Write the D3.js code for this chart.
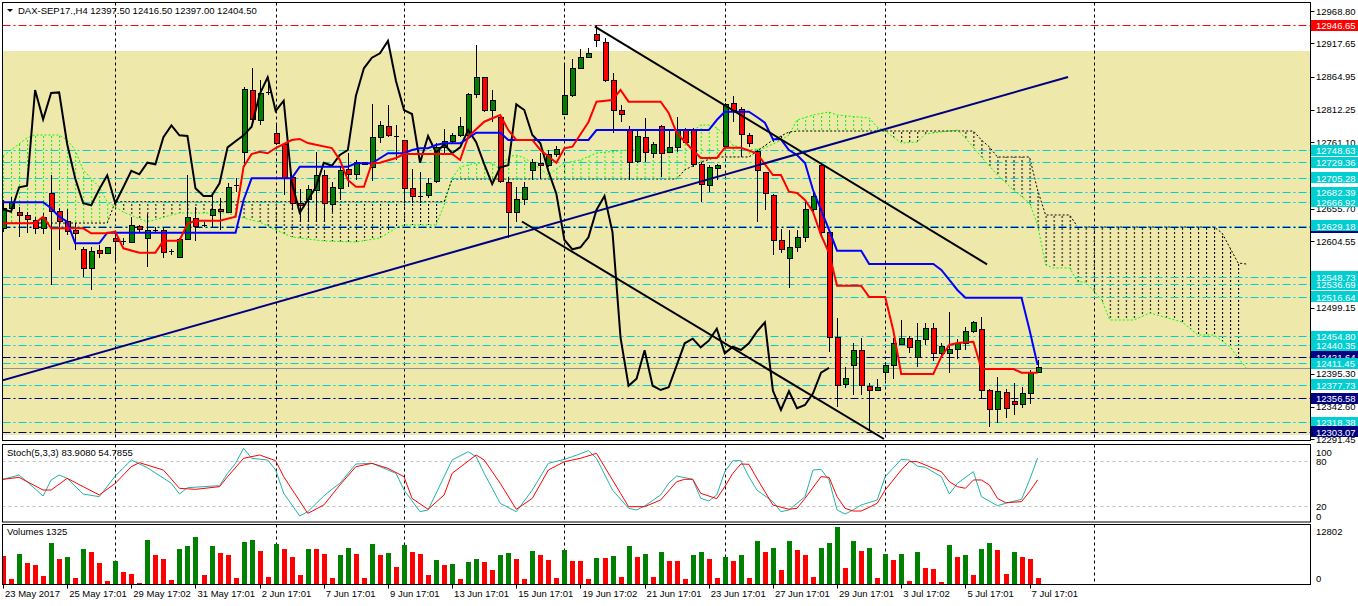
<!DOCTYPE html>
<html lang="en">
<head>
<meta charset="UTF-8">
<title>DAX-SEP17 H4</title>
<script src="https://cdnjs.cloudflare.com/ajax/libs/d3/7.8.5/d3.min.js"></script>
<style>
body{margin:0;background:#fff;}
text{font-family:'Liberation Sans',Arial,sans-serif;font-size:9.5px;}
</style>
</head>
<body>
<script type="text/javascript">
// candles, 130 bars of H4
var opens = [12625.6,12657.2,12649.8,12645.1,12637.2,12625.1,12680.5,12652.0,12635.6,12620.9,
12591.9,12561.9,12590.3,12585.6,12609.3,12605.1,12602.4,12627.7,12609.3,12621.3,
12621.3,12588.1,12579.3,12607.7,12640.3,12630.8,12645.1,12655.2,12649.8,12693.1,
12745.8,12842.8,12796.4,12839.6,12775.4,12758.0,12705.8,12664.7,12669.9,12685.7,
12709.0,12663.1,12688.4,12718.5,12710.5,12729.5,12721.6,12769.1,12785.8,12771.6,
12763.7,12688.4,12676.7,12676.7,12698.8,12753.2,12762.7,12772.2,12772.2,12837.1,
12864.0,12810.7,12800.7,12697.3,12649.8,12669.9,12716.2,12727.9,12724.1,12741.1,
12805.4,12834.4,12878.2,12895.6,12932.0,12918.7,12858.6,12812.2,12780.6,12730.5,
12769.1,12743.8,12785.8,12745.3,12752.6,12780.6,12780.6,12726.4,12693.6,12720.0,
12754.2,12822.8,12813.3,12772.2,12746.3,12713.1,12677.3,12606.6,12577.7,12595.1,
12610.3,12654.1,12723.7,12618.8,12452.8,12378.4,12407.9,12432.2,12374.6,12369.4,
12396.8,12408.5,12441.7,12450.6,12421.1,12449.6,12466.4,12427.5,12427.5,12432.7,
12442.2,12461.6,12465.4,12369.4,12337.8,12365.1,12350.9,12345.7,12364.2,12397.5];
var highs = [12669.9,12674.6,12658.8,12650.9,12643.5,12648.9,12709.4,12657.2,12655.7,12634.0,
12596.0,12596.0,12598.7,12596.0,12617.2,12609.8,12643.5,12630.4,12647.8,12627.7,
12627.7,12591.9,12609.3,12709.4,12659.3,12635.6,12677.8,12672.6,12697.3,12704.7,
12849.1,12878.7,12859.7,12864.9,12792.1,12758.0,12706.7,12687.3,12693.6,12746.3,
12717.3,12698.8,12722.6,12744.2,12733.2,12730.5,12821.7,12795.3,12820.1,12788.5,
12764.8,12718.5,12714.7,12704.2,12759.6,12782.2,12775.4,12801.6,12838.6,12915.0,
12864.9,12843.9,12804.3,12706.7,12690.9,12698.4,12734.7,12744.2,12749.0,12755.3,
12886.1,12892.4,12908.2,12909.8,12946.7,12925.6,12870.3,12820.1,12786.9,12780.6,
12799.1,12762.1,12788.5,12780.6,12800.7,12783.3,12783.3,12730.5,12725.3,12726.4,
12822.8,12834.4,12816.5,12775.4,12749.0,12714.7,12679.4,12623.6,12622.5,12622.5,
12667.2,12683.0,12727.9,12622.5,12482.8,12405.3,12444.2,12452.1,12380.0,12386.3,
12414.2,12451.2,12480.1,12454.8,12475.9,12474.9,12475.9,12444.2,12492.3,12449.6,
12469.5,12479.0,12485.3,12370.5,12389.5,12370.5,12380.0,12373.7,12401.0,12416.5];
var lows = [12619.3,12654.1,12611.4,12617.7,12616.1,12616.1,12535.5,12590.8,12614.5,12590.8,
12547.6,12527.6,12578.2,12584.5,12570.7,12598.7,12601.4,12619.8,12563.5,12617.2,
12577.7,12582.9,12577.7,12606.6,12605.5,12627.7,12627.7,12622.5,12648.9,12683.0,
12722.6,12796.4,12788.5,12836.0,12756.9,12677.8,12654.1,12635.6,12635.6,12635.6,
12635.6,12651.4,12669.9,12690.5,12701.5,12725.3,12700.4,12759.6,12769.1,12733.2,
12664.7,12664.7,12664.7,12672.6,12696.3,12741.1,12759.6,12770.0,12770.0,12830.7,
12809.5,12793.7,12696.3,12609.3,12635.6,12662.0,12701.5,12703.1,12722.6,12738.4,
12804.3,12833.3,12878.2,12894.0,12912.3,12857.0,12775.4,12793.7,12701.5,12728.9,
12730.5,12735.9,12706.7,12743.8,12746.3,12759.6,12722.6,12667.2,12683.0,12701.5,
12751.7,12793.7,12738.4,12754.2,12635.6,12654.1,12582.9,12585.6,12530.3,12588.1,
12604.0,12651.4,12611.9,12430.0,12342.1,12372.1,12361.5,12361.5,12306.2,12368.3,
12385.2,12386.3,12440.1,12428.4,12406.3,12440.6,12415.8,12419.6,12396.8,12418.0,
12432.7,12460.0,12356.3,12310.4,12316.8,12324.7,12329.9,12340.5,12347.3,12397.0];
var closes = [12657.2,12665.2,12644.6,12638.3,12625.1,12641.9,12651.4,12635.6,12619.8,12617.2,
12561.9,12589.2,12585.6,12595.1,12604.0,12605.6,12628.8,12624.0,12621.3,12621.8,
12587.2,12588.6,12607.7,12642.5,12627.7,12630.3,12655.2,12651.4,12690.0,12692.6,
12843.9,12797.5,12839.1,12840.1,12758.5,12704.2,12664.7,12661.5,12686.8,12709.0,
12664.7,12690.0,12716.2,12710.5,12728.9,12726.4,12769.1,12788.0,12772.2,12771.1,
12688.4,12676.2,12676.2,12696.3,12753.2,12762.7,12772.2,12785.8,12837.1,12864.0,
12810.7,12826.9,12698.8,12649.8,12669.9,12690.0,12728.9,12724.1,12741.1,12749.0,
12834.4,12878.2,12894.9,12901.9,12921.4,12858.1,12812.2,12805.9,12728.9,12771.1,
12744.7,12758.0,12743.8,12753.2,12780.6,12761.2,12726.8,12695.2,12721.6,12724.8,
12821.2,12812.2,12772.7,12759.6,12715.8,12679.4,12606.6,12591.9,12595.1,12610.9,
12654.1,12676.2,12618.8,12452.1,12376.2,12387.3,12432.2,12376.2,12369.4,12373.7,
12408.5,12443.3,12450.6,12436.9,12447.4,12466.4,12427.5,12437.9,12432.7,12443.3,
12461.6,12476.5,12368.3,12337.8,12367.4,12340.5,12345.7,12364.2,12396.8,12404.5];
var volumes = [6150,1160,6580,4630,4190,1810,8970,5500,5930,1370,
7660,7010,4630,720,5060,2680,2240,290,9620,6360,
5500,940,7660,8310,10270,2020,8310,6800,6360,1370,
9180,9620,7230,1590,8750,7660,5930,2020,7660,7640,
6580,1370,6360,7880,6580,1370,8750,6360,6800,3760,
8530,7010,6580,2020,5280,4190,4410,1160,4840,5500,
4840,3110,6360,6800,5500,1160,7230,6360,5280,1370,
7450,5060,5040,1160,5710,5700,6150,1590,8310,5930,
6580,1590,7010,5060,5040,1160,6360,7010,5500,1370,
5930,5060,6360,1370,9400,7010,7880,3110,9400,7450,
6360,1590,7880,8970,12290,3540,9400,7230,7880,1370,
6580,5280,6580,720,7010,3540,3330,510,8530,5930,
6360,2020,7660,8970,7450,2240,7010,5930,5500,1325];

// ichimoku as [bar, price]
var tenkan = [[0,12633.1],[4,12633.1],[5,12643.5],[6,12625.1],[10,12625.1],[11,12617.2],[13,12617.2],[14,12619.8],[15,12593.5],[17,12586.6],
[19,12586.6],[20,12605.5],[22,12605.5],[23,12632.4],[24,12637.2],[27,12637.2],[29,12643.5],[30,12722.6],[31,12742.6],[32,12746.3],
[33,12743.8],[34,12752.1],[36,12764.8],[37,12766.4],[38,12760.0],[41,12752.1],[42,12733.2],[43,12701.5],[44,12690.9],[45,12690.9],
[46,12728.0],[47,12728.9],[49,12736.3],[50,12742.6],[56,12742.6],[57,12733.2],[58,12770.0],[60,12793.7],[62,12804.3],[63,12780.6],
[64,12764.8],[66,12764.8],[67,12749.0],[69,12728.9],[70,12751.7],[71,12754.2],[73,12793.3],[74,12825.4],[76,12828.1],[77,12843.9],
[78,12825.4],[82,12825.4],[83,12807.5],[84,12775.9],[86,12749.0],[87,12736.3],[89,12736.3],[90,12752.6],[92,12752.6],[94,12743.8],
[96,12709.4],[97,12709.4],[98,12683.0],[99,12681.0],[100,12669.9],[101,12650.9],[102,12614.5],[103,12586.1],[104,12534.4],[107,12534.4],
[108,12516.5],[110,12516.5],[111,12464.3],[112,12394.7],[116,12394.7],[117,12422.1],[118,12440.6],[119,12443.8],[121,12445.8],[122,12402.6],
[126,12402.6],[127,12396.8],[129,12396.8]];
var kijun = [[0,12666.3],[5,12666.3],[6,12656.8],[7,12643.5],[8,12635.6],[9,12601.4],[12,12601.4],[13,12618.2],[29,12618.2],[30,12669.9],
[31,12704.2],[36,12704.2],[37,12722.6],[43,12722.6],[44,12727.9],[46,12727.9],[47,12735.9],[48,12743.8],[50,12743.8],[51,12749.0],
[52,12751.7],[53,12751.7],[54,12756.9],[55,12759.6],[57,12759.6],[58,12767.5],[59,12776.3],[62,12776.3],[63,12764.8],[73,12764.8],
[74,12780.6],[88,12780.6],[89,12796.4],[90,12809.5],[93,12809.5],[94,12801.2],[95,12792.1],[96,12765.9],[97,12765.9],[98,12749.0],
[99,12741.1],[100,12728.4],[101,12685.7],[102,12654.1],[103,12622.5],[104,12589.7],[107,12589.7],[108,12568.7],[116,12568.7],[117,12559.2],
[118,12543.4],[119,12527.6],[120,12515.4],[127,12515.4],[128,12464.3],[129,12408.9]];
var spanA = [[0,12739.5],[3,12768.0],[4,12772.7],[7,12772.7],[8,12764.8],[9,12749.0],[10,12717.4],[12,12690.5],[13,12666.7],[15,12650.9],
[18,12635.1],[21,12646.2],[22,12649.3],[28,12649.3],[30,12641.4],[32,12635.1],[34,12622.5],[36,12611.4],[40,12605.1],[44,12603.5],
[47,12609.8],[49,12625.6],[50,12630.4],[54,12630.4],[55,12662.0],[56,12704.7],[57,12722.1],[59,12728.4],[61,12728.4],[62,12717.4],
[63,12737.9],[64,12741.1],[65,12736.3],[66,12728.4],[68,12709.4],[70,12728.4],[72,12733.2],[74,12744.2],[78,12749.0],[83,12749.0],
[85,12769.5],[87,12788.5],[88,12788.5],[89,12783.8],[90,12772.7],[91,12756.9],[93,12749.0],[95,12752.1],[97,12764.8],[98,12772.7],
[99,12796.4],[101,12804.3],[103,12809.1],[104,12804.3],[108,12799.6],[109,12785.4],[110,12779.0],[112,12760.0],[114,12761.6],[115,12774.3],
[119,12780.6],[120,12768.0],[122,12737.9],[124,12709.4],[126,12685.7],[128,12665.2],[129,12630.4],[130,12567.1],[131,12562.4],[133,12562.4],
[134,12540.2],[135,12540.2],[137,12511.8],[138,12480.1],[141,12480.1],[143,12491.2],[147,12477.0],[149,12456.4],[151,12456.4],[153,12437.4],
[155,12404.2]];
var spanB = [[0,12633.5],[13,12633.5],[14,12667.2],[55,12667.2],[56,12703.1],[84,12703.1],[85,12717.4],[87,12730.0],[89,12737.9],[93,12737.9],
[96,12764.8],[98,12777.4],[99,12779.0],[121,12779.0],[122,12764.8],[123,12753.7],[124,12737.9],[128,12737.9],[129,12685.7],[130,12646.2],
[133,12646.2],[134,12627.2],[151,12627.2],[152,12617.7],[154,12570.3],[155,12568.7]];

// stochastic 5,3,3 as [bar, value]
var stochK = [[0,55.6],[2,61.3],[3,52.4],[5,33.3],[6,54.7],[7,61.3],[8,56.9],[10,36.0],[12,32.4],[14,60.0],[16,81.3],[18,71.1],[21,50.2],[22,36.0],
[23,44.4],[25,45.8],[27,47.1],[28,63.6],[29,76.9],[30,96.9],[31,83.6],[33,81.3],[34,68.0],[35,36.9],[37,6.7],[38,12.4],[40,33.3],[41,42.2],
[42,50.2],[44,76.0],[46,76.9],[48,68.0],[49,63.6],[50,41.3],[52,12.4],[53,14.7],[54,36.9],[56,81.3],[58,92.4],[59,85.8],[60,63.6],[62,23.6],
[64,12.4],[66,41.3],[68,76.9],[70,82.2],[71,85.8],[73,93.8],[74,83.6],[76,41.3],[78,16.9],[79,14.7],[80,20.0],[82,34.7],[83,50.2],[84,60.0],
[86,55.6],[87,30.2],[88,26.7],[89,34.7],[90,65.8],[91,80.4],[92,80.4],[93,59.1],[94,41.3],[96,25.8],[97,12.4],[98,14.7],[100,32.4],[101,68.0],
[102,68.9],[103,54.7],[104,14.7],[105,9.3],[106,14.7],[107,21.3],[109,28.0],[110,59.1],[112,82.2],[113,81.3],[114,73.3],[115,71.6],[117,59.1],
[118,36.0],[119,50.2],[121,65.8],[122,32.4],[124,20.4],[125,23.6],[127,28.9],[128,54.7],[129,83.9]];
var stochD = [[0,55.6],[2,58.2],[3,52.4],[5,41.3],[6,41.3],[8,56.9],[10,45.8],[12,34.7],[14,50.2],[16,72.4],[17,77.8],[20,68.0],[22,43.6],[24,42.2],
[27,45.8],[28,59.1],[30,83.6],[32,88.0],[34,80.4],[35,59.1],[38,10.2],[40,21.3],[42,48.0],[44,72.4],[46,76.9],[48,70.2],[50,59.1],[51,30.2],
[53,15.6],[55,34.7],[56,63.6],[59,88.0],[60,81.3],[62,50.2],[64,15.6],[66,30.2],[68,68.0],[70,79.1],[72,83.6],[74,90.2],[75,72.4],[77,36.9],
[78,19.1],[80,19.1],[82,28.0],[84,52.4],[85,55.6],[86,55.6],[87,36.9],[89,29.8],[90,45.8],[91,63.6],[92,76.0],[93,75.6],[94,56.9],[96,21.3],
[98,15.6],[99,16.9],[100,30.2],[102,59.1],[103,58.2],[104,32.4],[105,16.9],[106,13.3],[107,13.3],[108,18.2],[109,23.6],[110,41.3],[112,68.0],
[113,79.1],[114,79.1],[115,74.7],[117,65.8],[118,52.4],[119,45.8],[120,43.6],[121,54.7],[122,54.7],[123,48.0],[124,30.2],[125,24.4],[127,25.8],
[128,39.1],[129,54.8]];

// objects on the chart
var redLevels = [12946.65];
var cyanLevels = [12748.63,12729.36,12705.28,12682.39,12666.92,12629.18,12548.73,12536.69,12516.64,12454.80,12440.35,12411.45,12377.73,12318.38];
var navyLevels = [12626.70,12421.64,12356.58,12303.07];
var trendNavy = [[-0.37,12383.6],[132.8,12864.4]];
var trendTop = [[73.8,12944.0],[122.7,12568.2]];
var trendLow = [[64.7,12635.9],[109.85,12291.9]];
var boxTop = 12905.5, boxBottom = 12298.2;

var priceTicks = [12968.80,12917.65,12864.95,12812.25,12761.10,12708.40,12655.70,12604.55,12551.85,12499.15,12446.45,12395.30,12342.60,12291.45];
var hiddenTicks = [12708.40,12551.85,12446.45]; // covered by level labels
var gridBars = [14,34,50,70,90,110,136];
var dateLabels = ["23 May 2017","25 May 17:01","29 May 17:02","31 May 17:01","2 Jun 17:01","7 Jun 17:01","9 Jun 17:01","13 Jun 17:01",
"15 Jun 17:01","19 Jun 17:02","21 Jun 17:01","23 Jun 17:01","27 Jun 17:01","29 Jun 17:01","3 Jul 17:02","5 Jul 17:01","7 Jul 17:01"];

var width = 1358, height = 606;
var L = 2.5, R = 1310.5;
var main = {top:2.5, bottom:440.5}, stP = {top:444.5, bottom:522}, voP = {top:524.5, bottom:584.5};

var svg = d3.select("body").append("svg").attr("width",width).attr("height",height);
var defs = svg.append("defs");

var x = d3.scaleLinear().domain([0,163]).range([3,3+8.02*163]);
var y = d3.scaleLinear().domain([12291.45,12968.80]).range([439.3,11]);
var ys = d3.scaleLinear().domain([0,100]).range([521,446]);
var yv = d3.scaleLinear().domain([0,12802]).range([584,525]);

function clip(id, p){
	defs.append("clipPath").attr("id",id).append("rect")
		.attr("x",L).attr("y",p.top).attr("width",R-L).attr("height",p.bottom-p.top);
}
clip("cMain",main); clip("cSt",stP); clip("cVo",voP);

var gMain = svg.append("g").attr("clip-path","url(#cMain)");

// background rectangle object
gMain.append("rect").attr("x",L).attr("width",R-L).attr("y",y(boxTop)).attr("height",y(boxBottom)-y(boxTop)).attr("fill","#EEE8AA");

// grid
function grid(g, p){
	g.selectAll(null).data(gridBars).enter().append("line")
		.attr("x1",function(d){return Math.round(x(d))+0.5;}).attr("x2",function(d){return Math.round(x(d))+0.5;})
		.attr("y1",p.top).attr("y2",p.bottom).attr("stroke","#000").attr("stroke-dasharray","3,3");
}
grid(gMain, main);

// kumo hatching
function hatch(id, color){
	var p = defs.append("pattern").attr("id",id).attr("patternUnits","userSpaceOnUse")
		.attr("x",3).attr("y",0).attr("width",8.02).attr("height",4);
	p.append("line").attr("x1",0.5).attr("x2",0.5).attr("y1",0).attr("y2",4)
		.attr("stroke",color).attr("stroke-width",1).attr("stroke-dasharray","2,2");
}
hatch("hUp","#00FF00"); hatch("hDn","#000");
var pt = d3.line().x(function(d){return x(d[0]);}).y(function(d){return y(d[1]);});
var ptS = d3.line().x(function(d){return x(d[0]);}).y(function(d){return ys(d[1]);});
var bPts = spanB.map(function(d){return [x(d[0]),y(d[1])];});
var first = bPts[0][0], last = bPts[bPts.length-1][0];
defs.append("clipPath").attr("id","cAbove").append("path")
	.attr("d",d3.line()([[first,0]].concat(bPts,[[last,0]]))+"Z");
defs.append("clipPath").attr("id","cBelow").append("path")
	.attr("d",d3.line()([[first,460]].concat(bPts,[[last,460]]))+"Z");
var kumo = pt(spanA.concat(spanB.slice().reverse()))+"Z";
gMain.append("g").attr("clip-path","url(#cAbove)").append("path").attr("d",kumo).attr("fill","url(#hUp)").attr("fill-rule","evenodd");
gMain.append("g").attr("clip-path","url(#cBelow)").append("path").attr("d",kumo).attr("fill","url(#hDn)").attr("fill-rule","evenodd");
gMain.append("path").attr("d",pt(spanA)).attr("fill","none").attr("stroke","#00FF00").attr("stroke-dasharray","2,2");
gMain.append("path").attr("d",pt(spanB)).attr("fill","none").attr("stroke","#000").attr("stroke-dasharray","2,2");

// horizontal levels
function levels(arr, color){
	gMain.selectAll(null).data(arr).enter().append("line")
		.attr("x1",L).attr("x2",R).attr("y1",function(d){return Math.round(y(d))+0.5;}).attr("y2",function(d){return Math.round(y(d))+0.5;})
		.attr("stroke",color).attr("stroke-width",1).attr("stroke-dasharray","8,3,2,3");
}
levels(cyanLevels,"#00CED1"); levels(navyLevels,"#000080"); levels(redLevels,"#FF0000");
gMain.append("line").attr("x1",L).attr("x2",R).attr("y1",Math.round(y(closes[129]))+0.5).attr("y2",Math.round(y(closes[129]))+0.5)
	.attr("stroke","#909090");

// candles
var bars = d3.range(opens.length);
var cg = gMain.append("g").attr("shape-rendering","crispEdges");
cg.selectAll(null).data(bars).enter().append("line")
	.attr("x1",function(i){return Math.round(x(i))+0.5;}).attr("x2",function(i){return Math.round(x(i))+0.5;})
	.attr("y1",function(i){return y(highs[i]);}).attr("y2",function(i){return y(lows[i]);}).attr("stroke","#000");
cg.selectAll(null).data(bars).enter().append("rect")
	.attr("x",function(i){return Math.round(x(i))-2;}).attr("width",5)
	.attr("y",function(i){return y(Math.max(opens[i],closes[i]));})
	.attr("height",function(i){return Math.max(1,Math.abs(y(opens[i])-y(closes[i])));})
	.attr("fill",function(i){return Math.abs(opens[i]-closes[i])<1 ? "#000" : (closes[i]>opens[i] ? "#008000" : "#FF0000");})
	.attr("stroke","#000").attr("stroke-width",function(i){return Math.abs(opens[i]-closes[i])<1 ? 0 : 1;});

// ichimoku lines
var chikou = closes.map(function(c,i){return [i-26,c];}).filter(function(d){return d[0]>=0;});
gMain.append("path").attr("d",pt(chikou)).attr("fill","none").attr("stroke","#000").attr("stroke-width",2);
gMain.append("path").attr("d",pt(kijun)).attr("fill","none").attr("stroke","#0000FF").attr("stroke-width",2);
gMain.append("path").attr("d",pt(tenkan)).attr("fill","none").attr("stroke","#FF0000").attr("stroke-width",2);

// trendlines
gMain.append("path").attr("d",pt(trendTop)).attr("stroke","#000").attr("stroke-width",2);
gMain.append("path").attr("d",pt(trendLow)).attr("stroke","#000").attr("stroke-width",2);
gMain.append("path").attr("d",pt(trendNavy)).attr("stroke","#000080").attr("stroke-width",2);

// header
svg.append("path").attr("d","M7,9 L13,9 L10,12 Z").attr("fill","#000");
svg.append("text").attr("x",18).attr("y",14).text("DAX-SEP17.,H4  12397.50 12416.50 12397.00 12404.50");

// stochastic panel
var gSt = svg.append("g").attr("clip-path","url(#cSt)");
grid(gSt, stP);
gSt.selectAll(null).data([80,20]).enter().append("line").attr("x1",L).attr("x2",R)
	.attr("y1",function(d){return Math.round(ys(d))+0.5;}).attr("y2",function(d){return Math.round(ys(d))+0.5;})
	.attr("stroke","#C0C0C0").attr("stroke-dasharray","3,3");
gSt.append("path").attr("d",ptS(stochK)).attr("fill","none").attr("stroke","#20B2AA");
gSt.append("path").attr("d",ptS(stochD)).attr("fill","none").attr("stroke","#FF0000");
svg.append("text").attr("x",7).attr("y",456).text("Stoch(5,3,3) 83.9080 54.7855");

// volumes panel
var gVo = svg.append("g").attr("clip-path","url(#cVo)");
grid(gVo, voP);
gVo.selectAll(null).data(bars).enter().append("rect").attr("shape-rendering","crispEdges")
	.attr("x",function(i){return Math.round(x(i))-2;}).attr("width",5)
	.attr("y",function(i){return yv(volumes[i]);}).attr("height",function(i){return yv(0)-yv(volumes[i]);})
	.attr("fill",function(i){return i>0 && volumes[i]>volumes[i-1] ? "#008000" : "#FF0000";});
svg.append("text").attr("x",7).attr("y",535).text("Volumes 1325");

// frames
[main,stP,voP].forEach(function(p){
	svg.append("rect").attr("x",L).attr("y",p.top).attr("width",R-L).attr("height",p.bottom-p.top)
		.attr("fill","none").attr("stroke","#000");
});

// price axis
svg.selectAll(null).data(priceTicks).enter().append("line").attr("x1",R).attr("x2",R+4)
	.attr("y1",function(d){return Math.round(y(d))+0.5;}).attr("y2",function(d){return Math.round(y(d))+0.5;}).attr("stroke","#000");
svg.selectAll(null).data(priceTicks.filter(function(d){return hiddenTicks.indexOf(d)<0;})).enter().append("text")
	.attr("x",1316).attr("y",function(d){return y(d)+3.5;})
	.text(function(d){return d.toFixed(2);});
[[100,452],[80,461],[20,506],[0,516]].forEach(function(d){
	svg.append("text").attr("x",1316).attr("y",d[1]+3.5).text(d[0]);
});
svg.append("text").attr("x",1316).attr("y",534.5).text("12802");
svg.append("text").attr("x",1316).attr("y",581.5).text("0");

// price labels of the levels, in the stacking order seen on the chart
var tags = [];
navyLevels.slice(0,3).forEach(function(v){tags.push({v:v,c:"#000080"});});
cyanLevels.slice().sort(function(a,b){return a-b;}).forEach(function(v){tags.push({v:v,c:"#00CED1"});});
tags.push({v:navyLevels[3],c:"#000080"});
redLevels.forEach(function(v){tags.push({v:v,c:"#FF0000"});});
tags.forEach(function(t){
	var cy = y(t.v);
	svg.append("rect").attr("x",1311).attr("y",Math.round(cy-5.5)).attr("width",47).attr("height",11).attr("fill",t.c);
	svg.append("text").attr("x",1316).attr("y",Math.round(cy)+3.5).attr("fill","#fff").text(t.v.toFixed(2));
});

// time axis
svg.selectAll(null).data(dateLabels).enter().append("line")
	.attr("x1",function(d,k){return Math.round(x(k*8))+0.5;}).attr("x2",function(d,k){return Math.round(x(k*8))+0.5;})
	.attr("y1",voP.bottom).attr("y2",voP.bottom+4).attr("stroke","#000");
svg.selectAll(null).data(dateLabels).enter().append("text")
	.attr("x",function(d,k){return x(k*8)+2;}).attr("y",597).text(function(d){return d;});
</script>
</body>
</html>
